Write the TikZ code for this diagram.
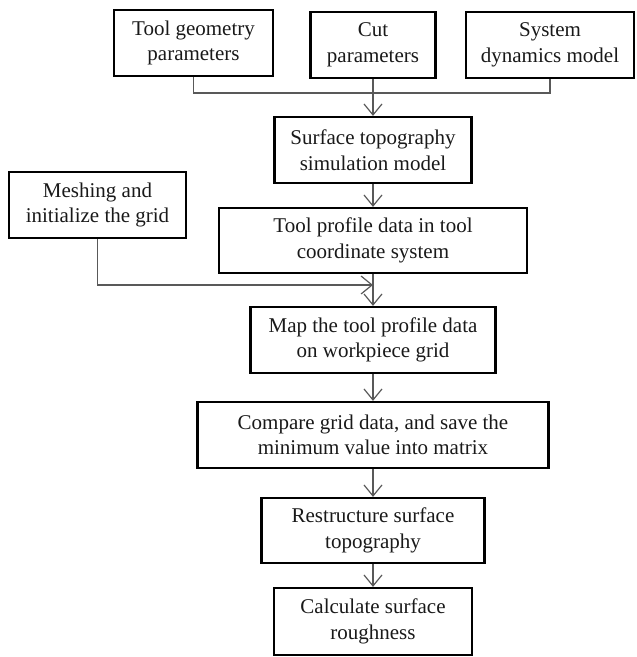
\documentclass[tikz,border=0pt]{standalone}
\usepackage{fontspec}
\setmainfont{Liberation Serif}
\usetikzlibrary{arrows.meta}
\begin{document}
\begin{tikzpicture}[x=1pt,y=-1pt,
  box/.style={draw=black, line width=2.2pt, align=center, inner sep=0pt,
    font=\fontsize{21}{25.5}\selectfont, text=black!90},
  conn/.style={draw=black!65, line width=1.2pt},
  arr/.style={conn, -{Straight Barb[length=11pt,width=18pt,line width=1.2pt]}}]
\useasboundingbox (0,0) rectangle (637,657);
\node[box, minimum width=159, minimum height=66] (b1) at (193.5,43) {Tool geometry\\parameters};
\node[box, minimum width=125, minimum height=66] (b2) at (373,45) {Cut\\parameters};
\node[box, minimum width=168, minimum height=66] (b3) at (550,45) {System\\dynamics model};
\node[box, minimum width=197, minimum height=66] (surf) at (373,150) {Surface topography\\simulation model};
\node[box, minimum width=177, minimum height=66] (mesh) at (97.5,205) {Meshing and\\initialize the grid};
\node[box, minimum width=308, minimum height=65] (prof) at (373,240.5) {Tool profile data in tool\\coordinate system};
\node[box, minimum width=245, minimum height=66] (map) at (373,340) {Map the tool profile data\\on workpiece grid};
\node[box, minimum width=351, minimum height=66] (comp) at (373,435) {Compare grid data, and save the\\minimum value into matrix};
\node[box, minimum width=223, minimum height=65] (restr) at (373,530.5) {Restructure surface\\topography};
\node[box, minimum width=198, minimum height=67] (calc) at (373,621.5) {Calculate surface\\roughness};
\coordinate (j) at (373,93);
\coordinate (m) at (373,285);
\draw[conn] (b1.south) |- (j) -| (b3.south);
\draw[arr] (b2.south) -- (surf.north);
\draw[arr] (surf.south) -- (prof.north);
\draw[arr] (mesh.south) |- (m);
\draw[arr] (prof.south) -- (map.north);
\draw[arr] (map.south) -- (comp.north);
\draw[arr] (comp.south) -- (restr.north);
\draw[arr] (restr.south) -- (calc.north);
\end{tikzpicture}
\end{document}
